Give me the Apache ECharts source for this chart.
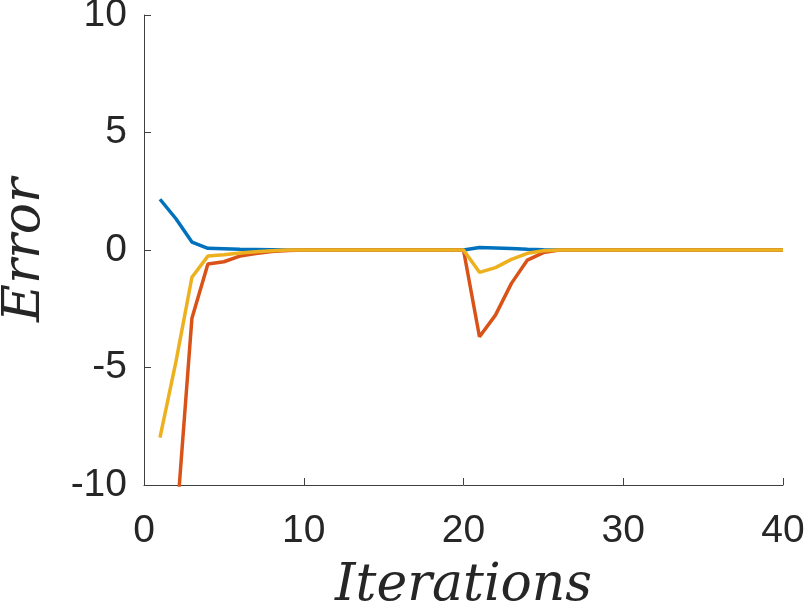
<!DOCTYPE html>
<html lang="en" style="height: 100%">
<head>
  <meta charset="utf-8">
  <title>error_iterations</title>
  <script src="https://cdn.jsdelivr.net/npm/echarts@6/dist/echarts.min.js"></script>
</head>
<body style="height: 100%; margin: 0; background: #fff">
  <div id="container" style="width: 807px; height: 605px"></div>
  <script type="text/javascript">
    // iterations 1..40
    var iterations = [];
    for (var i = 1; i <= 40; i++) iterations.push(i);

    var errBlue = [2.16, 1.33, 0.34, 0.07, 0.05, 0.03, 0.02, 0.01, 0, 0,
                   0, 0, 0, 0, 0, 0, 0, 0, 0, 0,
                   0.11, 0.09, 0.06, 0.03, 0.01, 0, 0, 0, 0, 0,
                   0, 0, 0, 0, 0, 0, 0, 0, 0, 0];
    var errOrange = [-20, -11.9, -2.9, -0.6, -0.5, -0.26, -0.15, -0.06, -0.02, 0,
                     0, 0, 0, 0, 0, 0, 0, 0, 0, 0,
                     -3.69, -2.77, -1.42, -0.43, -0.11, 0, 0, 0, 0, 0,
                     0, 0, 0, 0, 0, 0, 0, 0, 0, 0];
    var errYellow = [-7.98, -4.75, -1.16, -0.26, -0.2, -0.13, -0.07, -0.03, 0, 0,
                     0, 0, 0, 0, 0, 0, 0, 0, 0, 0,
                     -0.95, -0.75, -0.4, -0.14, -0.03, 0, 0, 0, 0, 0,
                     0, 0, 0, 0, 0, 0, 0, 0, 0, 0];

    function pairs(ys) {
      return iterations.map(function (x, k) { return [x, ys[k]]; });
    }

    var axisColor = '#404040';
    var labelStyle = { color: '#262626', fontFamily: 'Liberation Sans', fontSize: 39 };
    var nameStyle = { color: '#262626', fontFamily: 'DejaVu Serif', fontStyle: 'italic', fontSize: 52 };

    var myChart = echarts.init(document.getElementById('container'), null, { renderer: 'canvas' });
    var option = {
      animation: false,
      grid: { left: 144, right: 24, top: 15, bottom: 120, containLabel: false, outerBoundsMode: 'none' },
      xAxis: {
        type: 'value', min: 0, max: 40, interval: 10,
        name: 'Iterations', nameLocation: 'middle', nameGap: 75,
        nameTextStyle: nameStyle,
        axisLine: { onZero: false, lineStyle: { color: axisColor, width: 1 } },
        axisTick: { inside: true, length: 7, lineStyle: { color: axisColor } },
        axisLabel: Object.assign({ margin: 27 }, labelStyle),
        splitLine: { show: false }
      },
      yAxis: {
        type: 'value', min: -10, max: 10, interval: 5,
        name: 'Error', nameLocation: 'middle', nameGap: 93,
        nameTextStyle: nameStyle,
        axisLine: { show: true, onZero: false, lineStyle: { color: axisColor, width: 1 } },
        axisTick: { show: true, inside: true, length: 7, lineStyle: { color: axisColor } },
        axisLabel: Object.assign({ margin: 17 }, labelStyle),
        splitLine: { show: false }
      },
      series: [
        { type: 'line', data: pairs(errBlue), symbol: 'none', clip: true,
          lineStyle: { color: '#0072BD', width: 3.5 } },
        { type: 'line', data: pairs(errOrange), symbol: 'none', clip: true,
          lineStyle: { color: '#D95319', width: 3.5 } },
        { type: 'line', data: pairs(errYellow), symbol: 'none', clip: true,
          lineStyle: { color: '#EDB120', width: 3.5 } }
      ]
    };
    myChart.setOption(option);
  </script>
</body>
</html>
